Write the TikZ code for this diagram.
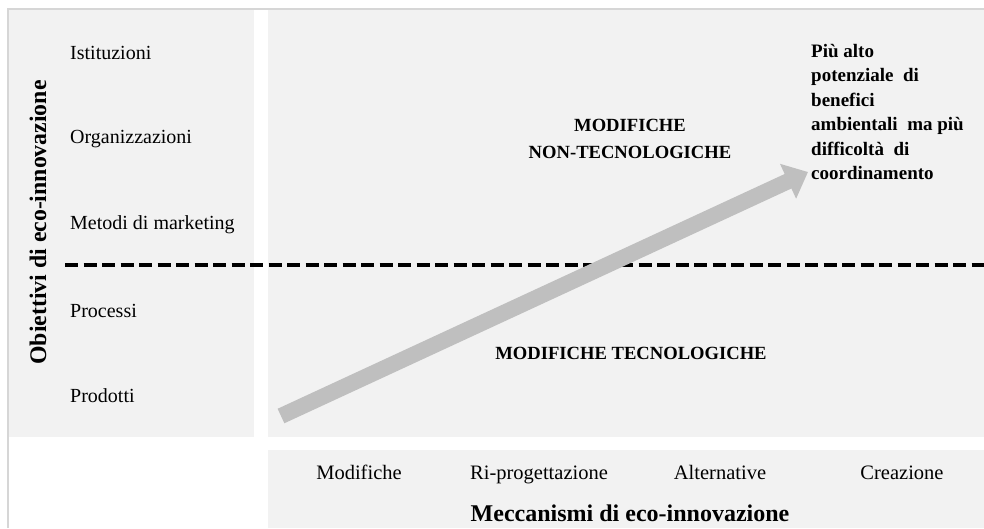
\documentclass[tikz,border=0pt]{standalone}
\usepackage{fontspec}
\setmainfont{Liberation Serif}
\usetikzlibrary{arrows.meta}
\definecolor{panel}{HTML}{F2F2F2}
\definecolor{frame}{HTML}{D6D6D6}
\definecolor{arrowgray}{HTML}{BFBFBF}

\begin{document}
\begin{tikzpicture}[x=1pt,y=-1pt,
  lab/.style={anchor=west,inner sep=0pt,font=\fontsize{20}{24}\selectfont},
  mech/.style={anchor=base,inner sep=0pt,font=\fontsize{20.5}{24}\selectfont},
  caps/.style={inner sep=0pt,align=center,font=\fontsize{18.6}{27}\selectfont\bfseries}]
\useasboundingbox (0,0) rectangle (984,528);

\fill[panel] (9,10) rectangle (254,437);
\fill[panel] (268,10) rectangle (984,437);
\fill[panel] (268,450) rectangle (984,528);
\draw[frame,line width=1.2pt] (8,528) -- (8,9) -- (984,9);

\node[rotate=90,inner sep=0pt,font=\fontsize{23.8}{28}\selectfont\bfseries] (obj) at (38,222.5) {Obiettivi di eco-innovazione};

\node[lab] (l1) at (70,53) {Istituzioni};
\node[lab] (l2) at (70,139) {Organizzazioni};
\node[lab] (l3) at (70,225) {Metodi di marketing};
\node[lab] (l4) at (70,311) {Processi};
\node[lab] (l5) at (70,396) {Prodotti};

\coordinate (d1) at (65,265);
\coordinate (d2) at (984,265);
\draw[line width=3.1pt,dash pattern=on 13pt off 5.5pt] (d1) -- (d2);

\node[caps] (non) at (630,139) {MODIFICHE\\NON-TECNOLOGICHE};
\node[caps] (tec) at (631,353) {MODIFICHE TECNOLOGICHE};

\coordinate (tail) at (281,416);
\coordinate (tip) at (808,172);
\draw[arrowgray,line width=16pt,-{Triangle[width=37pt,length=22pt]}] (tail) -- (tip);

\node[anchor=north west,inner sep=0pt,align=left,font=\fontsize{19}{24.5}\selectfont\bfseries] (pot) at (811,44)
  {Più alto\\potenziale~~di\\benefici\\ambientali~~ma~più\\difficoltà~~di\\coordinamento};

\node[mech] (m1) at (359,479) {Modifiche};
\node[mech] (m2) at (539,479) {Ri-progettazione};
\node[mech] (m3) at (720,479) {Alternative};
\node[mech] (m4) at (902,479) {Creazione};

\node[inner sep=0pt,font=\fontsize{24}{28}\selectfont\bfseries] (mec) at (630,513) {Meccanismi di eco-innovazione};
\end{tikzpicture}
\end{document}
